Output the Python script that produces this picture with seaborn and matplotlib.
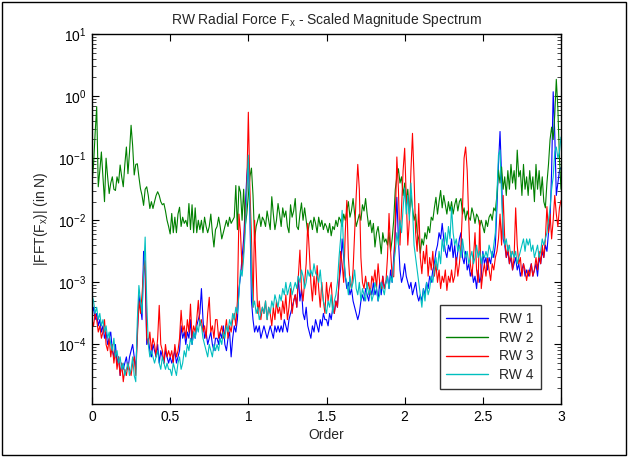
import numpy as np
import pandas as pd
import matplotlib
matplotlib.use("Agg")
import matplotlib.pyplot as plt
import seaborn as sns
from matplotlib.patches import Rectangle
from matplotlib.ticker import LogLocator, NullFormatter, FixedLocator, LogFormatterSciNotation

# ---- data (log10 of |FFT| in N), sampled every 0.01 order from 0 to 3 ----
order = [round(i * 0.01, 2) for i in range(301)]

rw1_log10 = [
 -3.5,-3.4,-3.6,-3.5,-3.7,-3.6,-3.8,-3.7,-3.9,-3.8,
 -4.0,-3.9,-3.8,-4.1,-4.2,-4.0,-4.3,-4.2,-4.5,-4.3,
 -4.4,-4.3,-4.2,-4.4,-4.2,-4.1,-4.0,-4.2,-4.4,-3.8,
 -3.2,-3.4,-3.6,-2.5,-2.9,-4.0,-3.9,-4.1,-4.2,-4.0,
 -4.1,-4.2,-4.0,-4.3,-4.1,-4.2,-4.3,-4.1,-4.2,-4.3,
 -4.2,-4.3,-4.2,-4.1,-4.3,-4.2,-4.1,-3.7,-3.9,-3.8,
 -4.0,-3.8,-3.9,-3.6,-4.0,-3.8,-3.9,-3.7,-3.6,-3.5,
 -3.1,-3.6,-3.9,-3.8,-4.0,-3.9,-3.8,-4.0,-4.1,-3.9,
 -3.9,-4.0,-3.8,-3.9,-3.7,-4.0,-4.1,-3.9,-3.8,-4.2,
 -3.9,-3.7,-3.8,-3.6,-3.1,-2.9,-2.6,-2.3,-1.8,-1.3,
 -1.0,-1.9,-3.3,-3.6,-3.8,-3.7,-3.8,-3.7,-3.9,-3.8,
 -3.7,-3.8,-3.9,-3.8,-3.7,-3.8,-3.9,-3.7,-3.8,-3.7,
 -3.8,-3.7,-3.8,-3.6,-3.7,-3.8,-3.6,-3.5,-3.4,-3.3,
 -3.2,-3.4,-2.9,-3.3,-3.1,-3.5,-3.6,-3.4,-3.7,-3.8,
 -3.9,-3.7,-3.8,-3.6,-3.7,-3.8,-3.6,-3.7,-3.5,-3.6,
 -3.6,-3.7,-3.5,-3.6,-3.4,-3.5,-3.3,-3.4,-3.0,-2.8,
 -2.3,-2.6,-2.9,-3.1,-3.0,-3.2,-3.1,-3.3,-3.4,-3.5,
 -3.6,-3.5,-3.3,-3.2,-3.3,-3.1,-3.2,-3.3,-3.1,-3.2,
 -3.0,-3.2,-3.1,-3.3,-3.0,-3.2,-2.9,-3.1,-3.0,-2.9,
 -3.1,-2.8,-3.0,-2.6,-2.2,-1.63,-2.3,-2.8,-3.0,-2.9,
 -2.7,-2.9,-3.0,-3.1,-3.0,-3.2,-3.1,-3.0,-3.2,-3.3,
 -3.2,-3.3,-3.1,-3.2,-3.0,-3.1,-2.9,-3.0,-2.8,-2.7,
 -2.5,-2.4,-2.2,-2.3,-2.05,-2.3,-2.5,-2.6,-2.4,-2.5,
 -2.3,-2.6,-2.4,-2.7,-2.5,-2.3,-2.2,-2.6,-2.7,-2.5,
 -2.8,-2.7,-2.9,-2.8,-3.0,-2.9,-3.1,-2.8,-3.0,-2.9,
 -2.5,-2.7,-2.6,-2.8,-2.6,-2.7,-2.5,-2.6,-2.4,-1.8,
 -1.1,-0.57,-1.3,-2.3,-2.4,-2.6,-2.5,-2.7,-2.6,-2.8,
 -2.7,-2.6,-2.8,-2.7,-2.9,-2.8,-2.7,-2.9,-2.8,-2.9,
 -2.8,-2.7,-2.9,-2.8,-2.7,-2.9,-2.6,-2.7,-2.5,-2.6,
 -2.4,-2.5,-2.2,-2.0,-1.2,0.07,-0.6,-1.6,-1.4,-1.2,
 -1.15]

rw2_log10 = [
 -1.4,-1.1,-0.6,-0.17,-1.46,-1.2,-0.9,-1.3,-1.7,-1.0,
 -1.3,-1.57,-1.4,-1.3,-1.5,-1.52,-1.3,-1.4,-1.11,-1.3,
 -1.46,-1.1,-0.82,-1.25,-0.9,-0.47,-0.8,-1.27,-1.1,-1.09,
 -1.3,-1.49,-1.6,-1.76,-1.5,-1.46,-1.6,-1.81,-1.7,-1.81,
 -1.7,-1.6,-1.54,-1.6,-1.7,-1.75,-1.73,-1.85,-2.0,-2.1,
 -2.22,-1.89,-2.2,-1.95,-2.2,-1.9,-1.79,-2.1,-1.95,-2.05,
 -2.0,-2.1,-1.73,-2.15,-1.75,-2.2,-1.8,-2.2,-2.0,-2.15,
 -2.0,-2.2,-1.95,-2.1,-2.2,-2.1,-1.9,-2.2,-2.43,-2.15,
 -2.1,-1.95,-2.1,-2.3,-2.2,-2.1,-2.0,-2.1,-1.95,-2.05,
 -2.0,-1.95,-1.44,-2.15,-1.45,-1.55,-2.0,-1.5,-2.1,-1.9,
 -1.6,-1.3,-1.16,-1.6,-2.3,-2.1,-2.0,-1.9,-2.1,-1.95,
 -2.0,-2.1,-1.85,-2.0,-2.15,-1.62,-1.9,-2.15,-2.0,-1.73,
 -1.9,-2.1,-1.8,-1.95,-1.85,-2.1,-2.2,-1.75,-1.95,-1.85,
 -1.65,-2.1,-2.15,-1.9,-1.72,-2.0,-1.8,-2.0,-2.2,-2.05,
 -2.0,-2.15,-1.95,-2.05,-2.2,-1.95,-2.1,-2.0,-2.15,-2.05,
 -2.1,-2.2,-2.05,-2.25,-2.1,-2.15,-2.0,-2.1,-1.95,-2.0,
 -2.1,-1.9,-2.0,-1.85,-1.7,-1.95,-1.84,-1.65,-1.9,-2.1,
 -2.0,-1.9,-2.0,-1.75,-1.85,-1.65,-1.9,-2.1,-2.0,-2.2,
 -2.05,-2.43,-2.2,-2.1,-2.3,-2.54,-2.2,-2.35,-2.3,-2.4,
 -2.2,-2.5,-2.3,-2.0,-1.5,-1.3,-1.17,-1.4,-1.3,-1.6,
 -1.4,-1.7,-1.5,-1.9,-1.6,-1.8,-2.0,-1.9,-2.2,-2.3,
 -2.53,-2.3,-2.4,-2.2,-2.3,-2.1,-2.2,-1.95,-2.0,-1.8,
 -1.63,-1.9,-1.7,-1.52,-1.8,-1.6,-1.75,-1.9,-1.7,-1.85,
 -1.7,-1.9,-1.75,-1.65,-1.85,-1.7,-1.65,-1.9,-1.8,-2.0,
 -1.85,-1.95,-2.0,-1.8,-1.9,-2.05,-1.9,-1.95,-2.1,-2.0,
 -2.1,-2.2,-2.0,-2.1,-1.95,-1.9,-2.0,-1.8,-1.85,-1.6,
 -1.19,-1.4,-1.14,-1.5,-1.3,-1.6,-1.2,-1.5,-1.1,-1.4,
 -1.2,-1.5,-0.87,-1.3,-1.2,-1.6,-1.1,-1.5,-1.3,-1.6,
 -1.2,-1.5,-1.3,-1.7,-1.1,-1.5,-1.2,-1.6,-1.3,-1.7,
 -1.8,-1.4,-1.1,-0.7,-0.5,-0.7,-0.3,0.27,-0.2,-1.0,
 -1.5]

rw3_log10 = [
 -3.6,-3.7,-3.5,-3.6,-3.8,-3.7,-3.9,-3.8,-3.6,-4.0,
 -4.1,-3.9,-4.2,-4.0,-4.3,-4.1,-4.4,-4.2,-4.5,-4.3,
 -4.6,-4.4,-4.5,-4.3,-4.4,-4.5,-4.3,-4.2,-4.5,-3.9,
 -3.3,-3.5,-3.2,-2.8,-2.65,-3.9,-4.0,-3.8,-4.1,-3.9,
 -4.0,-4.2,-3.9,-3.37,-4.0,-4.1,-4.3,-4.0,-4.2,-4.1,
 -4.2,-4.1,-4.3,-4.0,-4.2,-4.1,-3.9,-3.45,-3.8,-3.7,
 -3.9,-3.6,-3.8,-3.35,-3.9,-3.7,-3.8,-3.6,-3.29,-3.7,
 -3.6,-3.8,-3.7,-3.9,-3.5,-3.24,-3.8,-3.7,-3.9,-3.6,
 -3.6,-3.9,-3.8,-3.7,-3.9,-3.8,-3.6,-3.9,-3.7,-3.8,
 -3.6,-3.5,-3.7,-3.3,-1.9,-2.2,-2.8,-2.5,-2.0,-1.5,
 -0.26,-1.5,-2.27,-3.4,-2.0,-2.8,-3.5,-3.3,-3.6,-3.4,
 -3.5,-3.3,-3.6,-3.4,-3.5,-3.7,-3.4,-3.6,-3.3,-3.5,
 -3.4,-3.6,-3.3,-3.5,-3.2,-3.6,-3.4,-3.1,-3.5,-3.3,
 -3.2,-3.4,-2.9,-2.48,-3.1,-3.3,-3.0,-2.7,-2.05,-2.5,
 -3.0,-3.3,-2.9,-3.2,-2.73,-3.1,-3.4,-3.0,-3.3,-3.5,
 -3.0,-3.3,-3.1,-3.0,-3.4,-3.5,-3.3,-3.4,-3.0,-2.5,
 -2.7,-3.0,-2.2,-1.68,-2.6,-3.0,-3.1,-2.8,-2.2,-1.6,
 -1.1,-1.5,-2.6,-3.0,-3.1,-2.9,-3.1,-3.0,-3.2,-2.9,
 -3.0,-2.8,-3.1,-2.7,-3.0,-3.1,-2.9,-3.1,-3.0,-2.6,
 -1.89,-2.5,-2.9,-2.91,-2.0,-0.98,-1.5,-2.4,-1.8,-1.2,
 -0.84,-1.6,-2.4,-2.0,-1.2,-0.6,-1.3,-2.2,-2.5,-1.73,
 -2.6,-2.86,-2.5,-2.7,-2.4,-2.9,-2.6,-2.8,-2.5,-2.9,
 -2.7,-3.0,-2.8,-3.1,-2.9,-3.0,-2.8,-3.13,-2.9,-3.0,
 -2.8,-3.0,-2.9,-2.6,-2.9,-2.7,-2.4,-1.8,-1.0,-0.82,
 -1.2,-2.0,-2.7,-2.9,-2.6,-2.2,-2.8,-3.0,-2.0,-3.1,
 -2.86,-2.7,-2.9,-2.6,-2.8,-2.97,-2.7,-2.8,-2.6,-2.5,
 -2.3,-1.9,-2.4,-1.6,-2.3,-2.6,-2.4,-2.7,-2.5,-2.8,
 -2.6,-1.8,-2.4,-2.7,-2.6,-2.9,-2.7,-2.8,-2.97,-2.8,
 -2.9,-2.7,-2.9,-2.8,-2.6,-2.8,-2.5,-2.7,-2.4,-2.6,
 -2.3,-1.78,-2.2,-1.9,-2.3,-2.0,-1.6,-1.9,-2.1,-1.8,
 -1.68]

rw4_log10 = [
 -3.2,-3.3,-3.5,-3.4,-3.6,-3.5,-3.7,-3.6,-3.8,-3.7,
 -3.9,-3.8,-4.0,-4.1,-3.9,-4.2,-4.1,-4.3,-4.2,-4.4,
 -4.3,-4.5,-4.4,-4.3,-4.5,-4.4,-4.2,-4.5,-4.6,-3.6,
 -3.05,-3.3,-3.5,-2.9,-2.27,-3.3,-4.0,-4.2,-4.1,-4.2,
 -4.3,-4.2,-4.1,-4.3,-4.4,-4.2,-4.3,-4.4,-4.3,-4.4,
 -4.4,-4.5,-4.3,-4.4,-4.5,-4.3,-4.2,-4.4,-4.3,-4.1,
 -4.2,-4.0,-4.1,-3.9,-4.0,-3.8,-3.9,-3.7,-3.8,-3.6,
 -3.7,-3.9,-4.0,-4.1,-4.2,-4.0,-4.1,-4.2,-4.0,-4.1,
 -4.0,-4.1,-3.9,-4.0,-3.8,-3.9,-3.7,-3.8,-3.6,-3.7,
 -3.5,-3.6,-3.4,-3.5,-3.2,-2.8,-2.9,-2.6,-2.2,-1.6,
 -0.95,-1.8,-2.9,-3.4,-3.3,-3.5,-3.4,-3.6,-3.5,-3.4,
 -3.5,-3.3,-3.6,-3.4,-3.5,-3.3,-3.4,-3.2,-3.3,-3.4,
 -3.2,-3.3,-3.1,-3.2,-3.0,-3.2,-3.1,-3.0,-3.2,-3.1,
 -3.0,-3.1,-2.9,-3.0,-2.8,-2.9,-3.1,-3.0,-2.8,-2.9,
 -2.8,-2.9,-2.7,-2.85,-2.9,-3.0,-2.8,-3.1,-3.3,-3.4,
 -3.5,-3.3,-3.4,-3.2,-3.5,-3.3,-3.2,-3.0,-2.6,-2.3,
 -1.84,-2.5,-2.9,-3.0,-3.2,-2.9,-3.1,-3.0,-2.8,-3.1,
 -3.2,-3.0,-3.3,-3.1,-3.2,-3.3,-3.0,-3.2,-3.1,-3.3,
 -3.2,-3.0,-3.1,-3.3,-3.2,-3.0,-3.1,-3.2,-3.0,-2.9,
 -3.1,-2.9,-3.0,-2.7,-2.5,-2.2,-2.4,-2.0,-2.2,-1.8,
 -1.48,-1.9,-1.6,-2.0,-1.4,-1.8,-2.4,-2.6,-2.8,-3.0,
 -3.2,-3.4,-3.1,-3.3,-3.0,-3.2,-3.1,-2.9,-3.0,-2.8,
 -2.6,-2.8,-2.5,-2.7,-2.3,-2.5,-2.2,-2.4,-2.1,-2.3,
 -1.79,-2.2,-2.4,-2.3,-2.5,-2.4,-2.6,-2.3,-2.5,-2.6,
 -2.5,-2.7,-2.6,-2.5,-2.7,-2.6,-2.4,-2.6,-2.5,-2.7,
 -2.54,-2.6,-2.5,-2.6,-2.4,-2.5,-2.6,-2.4,-2.2,-1.6,
 -0.95,-0.87,-1.6,-2.2,-2.4,-2.3,-2.5,-2.4,-2.6,-2.5,
 -2.6,-2.5,-2.7,-2.6,-2.5,-2.4,-2.3,-2.5,-2.3,-2.4,
 -2.3,-2.5,-2.4,-2.6,-2.5,-2.4,-2.6,-2.5,-2.3,-2.4,
 -2.3,-2.2,-2.0,-1.8,-1.5,-1.3,-0.9,-0.82,-1.0,-0.9,
 -0.66]

series_names = ["RW 1", "RW 2", "RW 3", "RW 4"]
series_colors = ["#0000FF", "#008000", "#FF0000", "#00BFBF"]
x_ticks = [0, 0.5, 1, 1.5, 2, 2.5, 3]
x_tick_labels = ["0", "0.5", "1", "1.5", "2", "2.5", "3"]
y_ticks = [1e-4, 1e-3, 1e-2, 1e-1, 1e0, 1e1]

frames = []
for name, vals in zip(series_names, [rw1_log10, rw2_log10, rw3_log10, rw4_log10]):
    frames.append(pd.DataFrame({"Order": order,
                                "Mag": np.power(10.0, np.array(vals)),
                                "Series": name}))
df = pd.concat(frames, ignore_index=True)

sns.set_theme(style="white")
plt.rcParams["font.family"] = ["Liberation Sans", "DejaVu Sans"]
plt.rcParams["mathtext.fontset"] = "custom"
plt.rcParams["mathtext.rm"] = "Liberation Sans"
plt.rcParams["mathtext.it"] = "Liberation Sans"
plt.rcParams["mathtext.default"] = "regular"

fig = plt.figure(figsize=(6.28, 4.57), dpi=100)
fig.patch.set_facecolor("white")
ax = fig.add_axes([92/628, 1-404/457, (561-92)/628, (404-34)/457])

sns.lineplot(data=df, x="Order", y="Mag", hue="Series", palette=series_colors,
             hue_order=series_names, estimator=None, sort=False,
             linewidth=0.8, ax=ax)

ax.set_yscale("log")
ax.set_xlim(0, 3)
ax.set_ylim(1.1e-5, 10)
ax.xaxis.set_major_locator(FixedLocator(x_ticks))
ax.set_xticklabels(x_tick_labels)
ax.yaxis.set_major_locator(FixedLocator(y_ticks))
ax.yaxis.set_major_formatter(LogFormatterSciNotation(base=10))
ax.yaxis.set_minor_locator(LogLocator(base=10, subs=np.arange(2, 10), numticks=20))
ax.yaxis.set_minor_formatter(NullFormatter())

for s in ax.spines.values():
    s.set_visible(True)
    s.set_color("black")
    s.set_linewidth(1.0)

ax.tick_params(axis="both", which="major", direction="in", length=5, width=0.8,
               top=True, right=True, bottom=True, left=True, labelsize=10,
               colors="black", pad=4)
ax.tick_params(axis="y", which="minor", direction="in", length=3, width=0.6,
               left=True, right=True)

ax.set_title("RW Radial Force F$_x$ - Scaled Magnitude Spectrum", fontsize=10, pad=7)
ax.set_xlabel("Order", fontsize=10, labelpad=3)
ax.set_ylabel("|FFT(F$_x$)| (in N)", fontsize=10, labelpad=6)

leg = ax.legend(loc="lower right", bbox_to_anchor=(0.957, 0.04), borderaxespad=0,
                fontsize=10, frameon=True, fancybox=False, handlelength=3.0,
                borderpad=0.5, labelspacing=0.35, handletextpad=0.8)
leg.get_frame().set_edgecolor("black")
leg.get_frame().set_linewidth(1.0)
for line in leg.get_lines():
    line.set_linewidth(1.0)

fig.patches.append(Rectangle((0.003, 0.004), 0.994, 0.992, transform=fig.transFigure,
                             fill=False, edgecolor="black", linewidth=1.0))

fig.savefig("out.png", dpi=100, facecolor="white")
